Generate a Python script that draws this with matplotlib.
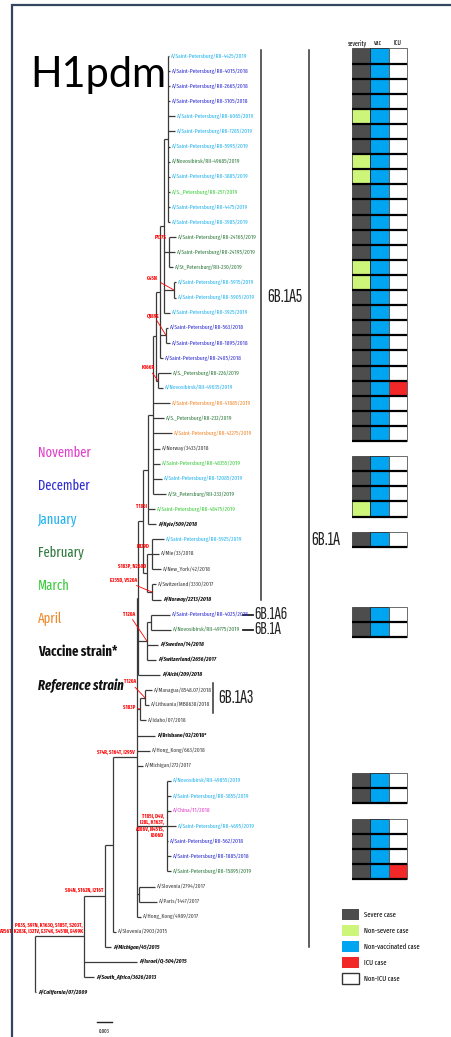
import numpy as np
import matplotlib.pyplot as plt
from matplotlib import font_manager as fm
from matplotlib.collections import LineCollection
from matplotlib.patches import Patch, Rectangle
from matplotlib.textpath import TextPath

W, H = 452, 1037
DPI = 100

# ---- leaves, top to bottom ----
names = [
    "A/Saint-Petersburg/RII-4425/2019", "A/Saint-Petersburg/RII-4015/2018",
    "A/Saint-Petersburg/RII-2665/2018", "A/Saint-Petersburg/RII-3105/2018",
    "A/Saint-Petersburg/RII-6065/2019", "A/Saint-Petersburg/RII-7285/2019",
    "A/Saint-Petersburg/RII-5995/2019", "A/Novosibirsk/RII-49685/2019",
    "A/Saint-Petersburg/RII-3885/2019", "A/S._Petersburg/RII-257/2019",
    "A/Saint-Petersburg/RII-4475/2019", "A/Saint-Petersburg/RII-3985/2019",
    "A/Saint-Petersburg/RII-24165/2019", "A/Saint-Petersburg/RII-24195/2019",
    "A/St_Petersburg/RII-230/2019", "A/Saint-Petersburg/RII-5915/2019",
    "A/Saint-Petersburg/RII-5905/2019", "A/Saint-Petersburg/RII-3925/2019",
    "A/Saint-Petersburg/RII-563/2018", "A/Saint-Petersburg/RII-1895/2018",
    "A/Saint-Petersburg/RII-2405/2018", "A/S._Petersburg/RII-226/2019",
    "A/Novosibirsk/RII-49035/2019", "A/Saint-Petersburg/RII-41885/2019",
    "A/S._Petersburg/RII-232/2019", "A/Saint-Petersburg/RII-42275/2019",
    "A/Norway/3433/2018", "A/Saint-Petersburg/RII-48355/2019",
    "A/Saint-Petersburg/RII-12085/2019", "A/St_Petersburg/RII-233/2019",
    "A/Saint-Petersburg/RII-48475/2019", "A/Kyiv/509/2018",
    "A/Saint-Petersburg/RII-5925/2019", "A/Mie/33/2018",
    "A/New_York/42/2018", "A/Switzerland/3330/2017",
    "A/Norway/2213/2018", "A/Saint-Petersburg/RII-4025/2018",
    "A/Novosibirsk/RII-49775/2019", "A/Sweden/14/2018",
    "A/Switzerland/2656/2017", "A/Aichi/209/2018",
    "A/Managua/8548.07/2018", "A/Lithuania/MB8638/2018",
    "A/Idaho/07/2018", "A/Brisbane/02/2018*",
    "A/Hong_Kong/663/2018", "A/Michigan/272/2017",
    "A/Novosibirsk/RII-49855/2019", "A/Saint-Petersburg/RII-3855/2019",
    "A/China/11/2018", "A/Saint-Petersburg/RII-4695/2019",
    "A/Saint-Petersburg/RII-562/2018", "A/Saint-Petersburg/RII-1885/2018",
    "A/Saint-Petersburg/RII-15895/2019", "A/Slovenia/2794/2017",
    "A/Paris/1447/2017", "A/Hong_Kong/4989/2017",
    "A/Slovenia/2903/2015", "A/Michigan/45/2015",
    "A/Israel/Q-504/2015", "A/South_Africa/3626/2013",
    "A/California/07/2009",
]
month = [
    "Jan", "Dec", "Dec", "Dec", "Jan", "Jan", "Jan", "Feb", "Jan", "Mar",
    "Jan", "Jan", "Feb", "Feb", "Feb", "Jan", "Jan", "Jan", "Dec", "Dec",
    "Dec", "Feb", "Jan", "Apr", "Feb", "Apr", "", "Mar", "Jan", "Feb",
    "Mar", "ref", "Jan", "", "", "", "ref", "Dec", "Feb", "ref",
    "ref", "ref", "", "", "", "vac", "", "", "Jan", "Jan",
    "Nov", "Jan", "Dec", "Dec", "Feb", "", "", "", "", "ref",
    "ref", "ref", "ref",
]
# distance from root of each tip (substitutions/site)
tip = [
    0.0268, 0.0270, 0.0270, 0.0270, 0.0280, 0.0280, 0.0270, 0.0270, 0.0270, 0.0270,
    0.0270, 0.0270, 0.0282, 0.0280, 0.0276, 0.0282, 0.0282, 0.0270, 0.0266, 0.0270,
    0.0256, 0.0272, 0.0256, 0.0270, 0.0258, 0.0274, 0.0250, 0.0250, 0.0254, 0.0262,
    0.0240, 0.0242, 0.0258, 0.0248, 0.0252, 0.0242, 0.0252, 0.0270, 0.0272, 0.0246,
    0.0242, 0.0250, 0.0234, 0.0228, 0.0222, 0.0240, 0.0230, 0.0216, 0.0272, 0.0272,
    0.0272, 0.0282, 0.0266, 0.0272, 0.0272, 0.0240, 0.0244, 0.0212, 0.0162, 0.0152,
    0.0204, 0.0118, 0.0002,
]

# ---- topology: (node, depth, children); ints are leaf indices ----
c1 = ("c1", 0.0266, [0, 1, 2, 3, 4, 5, 6, 7, 8, 9, 10, 11])
c2 = ("c2", 0.0268, [12, 13, 14])
c3 = ("c3", 0.0278, [15, 16])
c4 = ("c4", 0.0262, [18, 19])
c5 = ("c5", 0.0246, [21, 22])
u1 = ("u1", 0.0258, [c1, c2, c3, 17])
u2 = ("u2", 0.0250, [u1, c4, 20])
u3 = ("u3", 0.0242, [u2, c5])
mid = ("mid", 0.0236, [u3, 23, 24, 25, 26, 27, 28, 29])
t185 = ("t185", 0.0226, [mid, 30, 31])
mie = ("mie", 0.0234, [32, 33, 34])
sw = ("sw", 0.0234, [35, 36])
a5b = ("a5b", 0.0224, [mie, sw])
a5 = ("a5", 0.0216, [t185, a5b])
a46 = ("a46", 0.0232, [37, 38])
a6 = ("a6", 0.0224, [a46, 39, 40])
spine = ("spine", 0.0206, [a5, a6, 41])
a3b = ("a3b", 0.0220, [42, 43])
a3 = ("a3", 0.0210, [a3b, 44])
f = ("f", 0.0264, [48, 49, 50, 51, 52, 53, 54])
e = ("e", 0.0208, [55, 56])
d = ("d", 0.0204, [spine, a3, 45, 46, 47, f, e, 57])
c = ("c", 0.0156, [d, 58])
b = ("b", 0.0140, [c, 59])
a = ("a", 0.0098, [b, 60, 61])
tree = ("root", 0.0, [a, 62])

mutations = {
    "c2": "P137S", "c3": "G45N", "c4": "Q189E", "c5": "K166R", 30: "T185I",
    "mie": "N129D", "a5b": "S183P, N260D", "sw": "E235D, V520A",
    "a6": "T120A", "a3b": "T120A", "a3": "S183P",
    "f": "T185I, D4V,\nI28L, K163T,\nA186V, N451S,\nE506D",
    "d": "S74R, S164T, I295V", "b": "S84N, S162N, I216T",
    "a": "P83S, S97N, K163Q, S185T, S203T,\nA256T, K283E, I321V, E374K, S451N, E499K",
}

clade_name = ["6B.1A5", "6B.1A", "6B.1A3"]
clade_first = [0, 0, 42]
clade_last = [36, 59, 43]
tag_leaf = [37, 38]
tag_text = ["6B.1A6", "6B.1A"]

# ---- clinical table ----
heat_leaf = [0, 1, 2, 3, 4, 5, 6, 7, 8, 9, 10, 11, 12, 13, 14, 15, 16, 17, 18, 19,
             20, 21, 22, 23, 24, 25, 27, 28, 29, 30, 32, 37, 38, 48, 49, 51, 52, 53, 54]
severe = [1, 1, 1, 1, 0, 1, 1, 0, 0, 1, 1, 1, 1, 1, 0, 0, 1, 1, 1, 1,
          1, 1, 1, 1, 1, 1, 1, 1, 1, 0, 1, 1, 1, 1, 1, 1, 1, 1, 1]
vaccinated = [0, 0, 0, 0, 0, 0, 0, 0, 0, 0, 0, 0, 0, 0, 0, 0, 0, 0, 0, 0,
              0, 0, 0, 0, 0, 0, 0, 0, 0, 0, 0, 0, 0, 0, 0, 0, 0, 0, 0]
icu = [0, 0, 0, 0, 0, 0, 0, 0, 0, 0, 0, 0, 0, 0, 0, 0, 0, 0, 0, 0,
       0, 0, 1, 0, 0, 0, 0, 0, 0, 0, 0, 0, 0, 0, 0, 0, 0, 0, 1]

month_labels = ["November", "December", "January", "February", "March", "April"]
month_keys = ["Nov", "Dec", "Jan", "Feb", "Mar", "Apr"]

colors = {"Nov": "#e03cc8", "Dec": "#2b2bd0", "Jan": "#22b2ee", "Feb": "#2f7a3e",
          "Mar": "#3dcc3d", "Apr": "#f0892e", "": "#3c3c3c", "ref": "#111111",
          "vac": "#111111"}
DARK, LIGHT, BLUE, RED = "#4d4d4d", "#cdf57a", "#00a5f2", "#f22828"

# ---- fonts: narrow faces if present ----
fam_names = {fo.name for fo in fm.fontManager.ttflist}


def pick(prefs, default="DejaVu Sans"):
    for p in prefs:
        if p in fam_names:
            return p
    return default


NARROW = pick(["Fira Sans Extra Condensed", "Archivo Narrow", "Roboto Condensed",
               "Liberation Sans Narrow", "Roboto"])
SQUEEZED = pick(["Sofia Sans Extra Condensed", "Fira Sans Extra Condensed",
                 "Archivo Narrow", "Roboto"])
BIG = pick(["Lato", "Open Sans"])


def fit(s, target_px, family, weight="normal", style="normal"):
    """font size (pt) that makes s about target_px wide"""
    fp = fm.FontProperties(family=family, weight=weight, style=style)
    w = TextPath((0, 0), s, size=10, prop=fp).get_extents().width
    return target_px * 72 / DPI * 10 / w


FS_LEAF = fit("A/Saint-Petersburg/RII-4425/2019", 76, NARROW)
FS_MUT = fit("P83S, S97N, K163Q, S185T, S203T,", 67, NARROW, weight="bold")
FS_CLADE = fit("6B.1A5", 34, SQUEEZED)
FS_TAG = fit("6B.1A6", 32, SQUEEZED)
FS_MONTH = fit("Vaccine strain*", 79, NARROW, weight="bold")
FS_HEAD = fit("severity", 19, NARROW)
FS_LEG = fit("Non-vaccinated case", 55, NARROW)
FS_TITLE = fit("H1pdm", 130, BIG)

# ---- figure: one axes in tree units (x: subs/site, y: leaf row) ----
SCALE, ROOT_PX, ROW0, ROWH = 0.0002, 35, 56, 15.1
fig = plt.figure(figsize=(W / DPI, H / DPI), dpi=DPI)
ax = fig.add_axes([0, 0, 1, 1])
ax.set_xlim(-ROOT_PX * SCALE, (W - ROOT_PX) * SCALE)
ax.set_ylim((H - ROW0) / ROWH, -ROW0 / ROWH)
ax.axis("off")


def X(px):
    return (px - ROOT_PX) * SCALE


def Y(py):
    return (py - ROW0) / ROWH


segs, pos, parent_x = [], {}, {}


def draw(node, px):
    if isinstance(node, int):
        segs.append([(px, node), (tip[node], node)])
        parent_x[node] = px
        return node
    name, x, kids = node
    ys = [draw(k, x) for k in kids]
    y = (ys[0] + ys[-1]) / 2
    segs.append([(x, ys[0]), (x, ys[-1])])
    segs.append([(px, y), (x, y)])
    pos[name] = (x, y)
    return y


draw(tree, tree[1])
ax.add_collection(LineCollection(segs, colors="#3a3a3a", linewidths=0.9))

for i, (nm, m) in enumerate(zip(names, month)):
    ax.text(tip[i] + 2 * SCALE, i, nm, color=colors[m], fontsize=FS_LEAF,
            fontweight="bold" if m in ("ref", "vac") else "normal",
            fontstyle="italic" if m == "ref" else "normal",
            va="center", ha="left", family=NARROW)

# label offsets in pixels (dx, dy up, leader line)
offsets = {"c2": (-2, 15, False), "c3": (-16, 12, True), "c4": (-6, 20, True),
           "c5": (-3, 13, True), 30: (-1, 3, False), "mie": (-2, 8, False),
           "a5b": (-1, 7, False), "sw": (-15, 12, True), "a6": (-12, 27, True),
           "a3b": (-9, 16, True), "a3": (-5, 2, True), "f": (-3, 0, False),
           "d": (-2, 5, False), "b": (-2, 5, False), "a": (-1, 8, False)}
for key, txt in mutations.items():
    xy = (parent_x[key], key) if isinstance(key, int) else pos[key]
    dx, dy, lead = offsets[key]
    ax.annotate(txt, xy=xy, xytext=(dx, dy), textcoords="offset pixels",
                ha="right", va="center", color="red", fontsize=FS_MUT,
                fontweight="bold", linespacing=1.25, family=NARROW,
                arrowprops=dict(arrowstyle="-", color="red", lw=0.6,
                                shrinkA=0, shrinkB=0) if lead else None)

# clade bars
bar_px = [261, 309, 213]
label_at = [(267, 297), (311, 540), (218, 698)]
for k, name in enumerate(clade_name):
    pad = 0.5 if k == 2 else 0.4
    ax.plot([X(bar_px[k])] * 2, [clade_first[k] - pad, clade_last[k] + (0.5 if k == 2 else 0)],
            color="#333333", lw=1.1)
    lx, ly = label_at[k]
    ax.text(X(lx), Y(ly), name, fontsize=FS_CLADE, va="center", ha="left",
            color="#222222", family=SQUEEZED)
for leaf, txt in zip(tag_leaf, tag_text):
    ax.plot([X(243), X(253)], [leaf, leaf], color="#222222", lw=1.3)
    ax.text(X(254), leaf, txt, fontsize=FS_TAG, va="center", ha="left",
            color="#222222", family=SQUEEZED)

# scale bar
ax.plot([X(97), X(97) + 0.003], [Y(1022)] * 2, color="#222222", lw=1)
ax.text(X(97) + 0.0015, Y(1031), "0.003", fontsize=FS_MUT, ha="center",
        va="center", family=NARROW)

# month legend
for k, (lab, key) in enumerate(zip(month_labels, month_keys)):
    fig.text(38 / W, 1 - (453 + 33.2 * k) / H, lab, color=colors[key],
             fontsize=FS_MONTH, va="center", family=NARROW)
fig.text(38 / W, 1 - 652 / H, "Vaccine strain*", fontsize=FS_MONTH,
         fontweight="bold", va="center", color="#111111", family=NARROW)
fig.text(38 / W, 1 - 686 / H, "Reference strain", fontsize=FS_MONTH,
         fontweight="bold", fontstyle="italic", va="center", color="#111111",
         family=NARROW)

fig.text(30 / W, 1 - 75 / H, "H1pdm", fontsize=FS_TITLE, family=BIG, va="center")

# clinical table
axh = fig.add_axes([352 / W, 0, 55 / W, 1])
axh.set_xlim(0, 3)
axh.set_ylim(ax.get_ylim())
axh.axis("off")
for col, cols, ec in [(0, [DARK if s else LIGHT for s in severe], "#444444"),
                      (1, ["#f0a000" if v else BLUE for v in vaccinated], "#222222"),
                      (2, [RED if u else "white" for u in icu], "#555555")]:
    bars = axh.barh(heat_leaf, 1, left=col, height=1, color=cols, edgecolor=ec, lw=0.6)
    for r in bars:
        r.set_clip_on(False)
axh.hlines([i + 0.5 for i in heat_leaf], 0, 3, color="black", lw=1.6, clip_on=False)
for xc, lab in zip([0.3, 1.4, 2.5], ["severity", "vac", "ICU"]):
    axh.text(xc, Y(43), lab, fontsize=FS_HEAD, ha="center", va="center", family=NARROW)

handles = [Patch(fc=DARK, ec="none", label="Severe case"),
           Patch(fc=LIGHT, ec="none", label="Non-severe case"),
           Patch(fc=BLUE, ec="none", label="Non-vaccinated case"),
           Patch(fc=RED, ec="none", label="ICU case"),
           Patch(fc="white", ec="#333333", lw=1.0, label="Non-ICU case")]
lp = fm.FontProperties(family=NARROW, size=FS_LEG)
fs_px = FS_LEG * DPI / 72
fig.legend(handles=handles, loc="upper left", bbox_to_anchor=(342 / W, 1 - 909 / H),
           frameon=False, prop=lp,
           handlelength=17 / fs_px, handleheight=15 / fs_px,
           labelspacing=4.5 / fs_px, handletextpad=5 / fs_px,
           borderpad=0, borderaxespad=0)

# page frame (left and top edges visible)
fig.add_artist(Rectangle((12 / W, -0.05), 1.0, 1.05 - 5 / H, transform=fig.transFigure,
                         fill=False, ec="#34465e", lw=1.6))

fig.savefig("out.png", dpi=DPI, facecolor="white")
